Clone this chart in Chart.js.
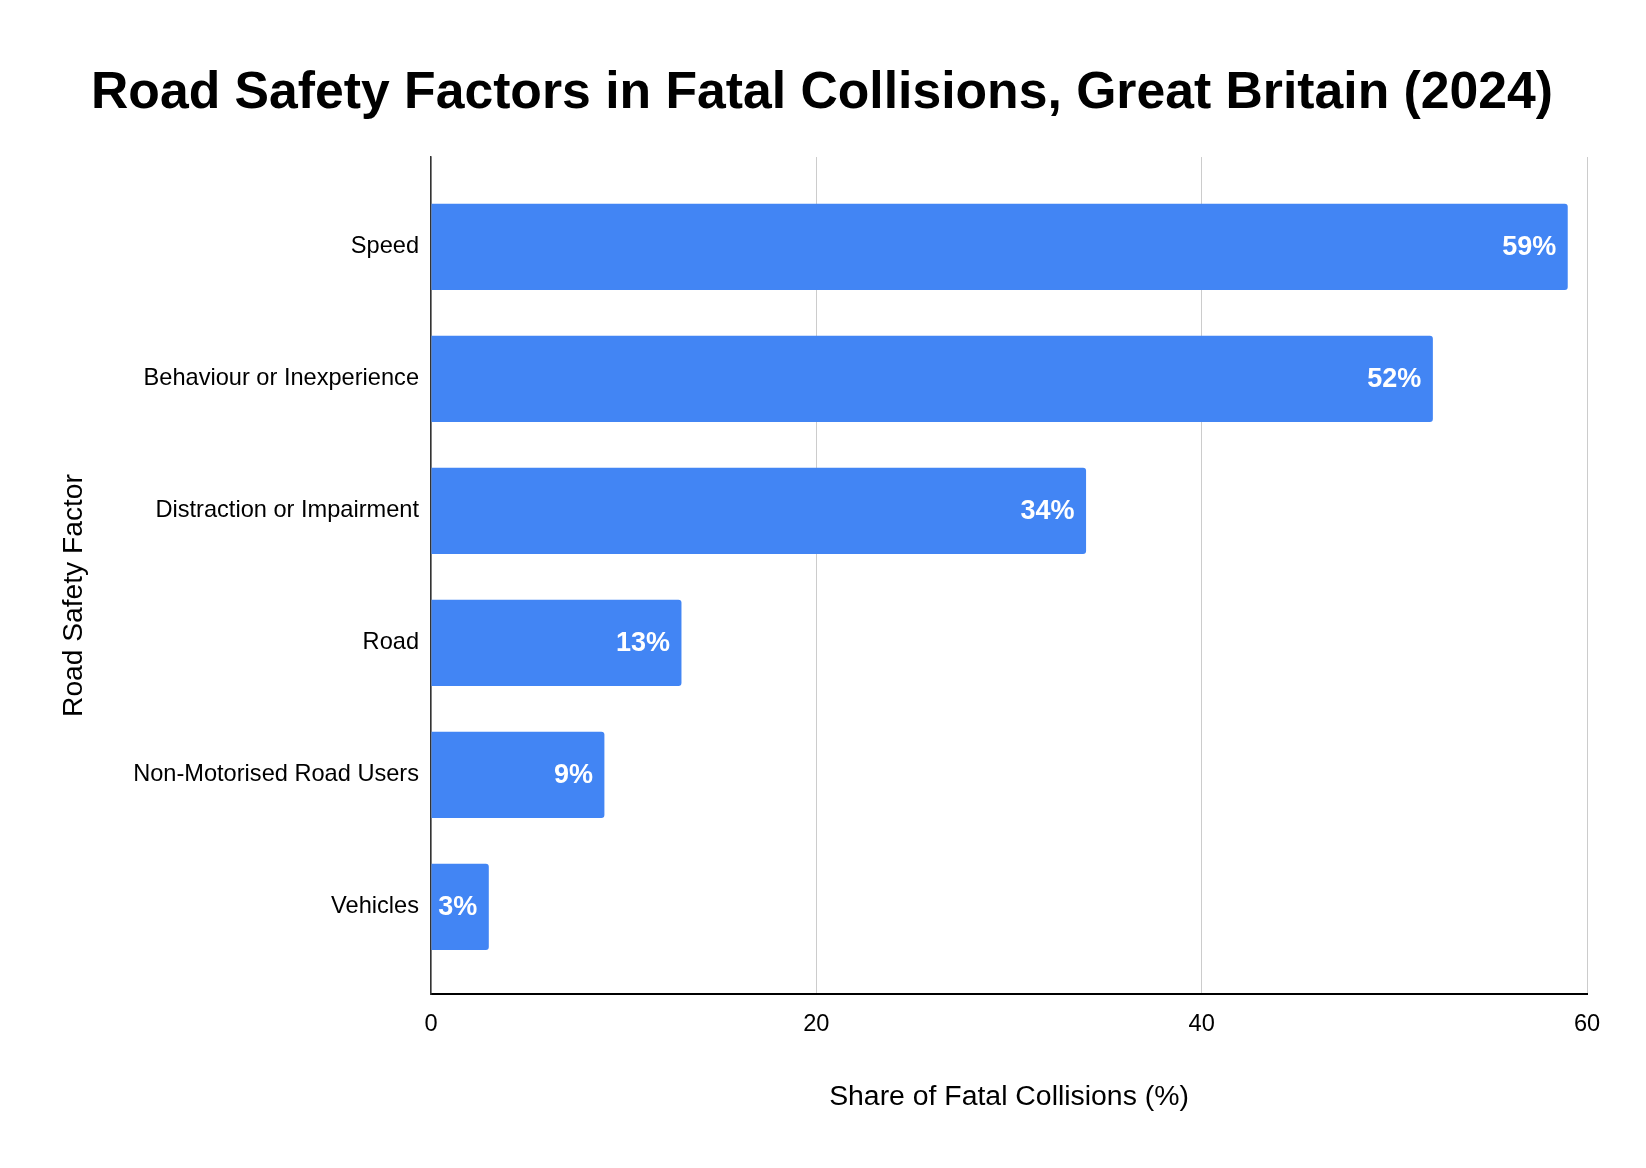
<!DOCTYPE html>
<html>
<head>
<meta charset="utf-8">
<script src="https://cdn.jsdelivr.net/npm/chart.js@4.4.1/dist/chart.umd.min.js"></script>
<style>
  html, body { margin: 0; padding: 0; background: #ffffff; }
  #wrap { width: 1646px; height: 1168px; position: relative; }
</style>
</head>
<body>
<div id="wrap"><canvas id="c" width="1646" height="1168"></canvas></div>
<script>
const categories = ["Speed", "Behaviour or Inexperience", "Distraction or Impairment", "Road", "Non-Motorised Road Users", "Vehicles"];
const shareValues = [59, 52, 34, 13, 9, 3];
const valueLabels = ["59%", "52%", "34%", "13%", "9%", "3%"];
const xTicks = [0, 20, 40, 60];
const yAxisTitle = 'Road Safety Factor';

const FONT = "'Liberation Sans', Arial, sans-serif";

const barLabelPlugin = {
  id: 'barLabels',
  afterDatasetsDraw(chart) {
    const ctx = chart.ctx;
    const meta = chart.getDatasetMeta(0);
    ctx.save();
    ctx.fillStyle = '#ffffff';
    ctx.font = "bold 27px " + FONT;
    ctx.textAlign = 'right';
    ctx.textBaseline = 'middle';
    meta.data.forEach((bar, i) => {
      ctx.fillText(valueLabels[i], bar.x - 11.5, bar.y + 1);
    });
    ctx.restore();
  }
};

const yTitlePlugin = {
  id: 'yTitle',
  afterDraw(chart) {
    const ctx = chart.ctx;
    const area = chart.chartArea;
    ctx.save();
    ctx.translate(74.5, (area.top + area.bottom) / 2 + 20);
    ctx.rotate(-Math.PI / 2);
    ctx.fillStyle = '#000000';
    ctx.font = "28.2px " + FONT;
    ctx.textAlign = 'center';
    ctx.textBaseline = 'middle';
    ctx.fillText(yAxisTitle, 0, 0);
    ctx.restore();
  }
};

new Chart(document.getElementById('c'), {
  type: 'bar',
  data: {
    datasets: [{
      data: shareValues.map((v, i) => ({ x: v, y: i })),
      backgroundColor: '#4285F4',
      borderRadius: 3,
      borderSkipped: 'start',
      barPercentage: 0.653,
      categoryPercentage: 1.0
    }]
  },
  options: {
    indexAxis: 'y',
    responsive: false,
    animation: false,
    devicePixelRatio: 1,
    layout: { padding: { left: 57, right: 59, top: 0, bottom: 0 } },
    plugins: {
      legend: { display: false },
      tooltip: { enabled: false },
      title: {
        display: true,
        text: 'Road Safety Factors in Fatal Collisions, Great Britain (2024)',
        color: '#000000',
        font: { family: FONT, size: 51.7, weight: 'bold', lineHeight: 1.2 },
        padding: { top: 62.3, bottom: 32.7 }
      }
    },
    scales: {
      x: {
        type: 'linear',
        min: 0,
        max: 60,
        offset: false,
        afterBuildTicks(scale) { scale.ticks = xTicks.map(v => ({ value: v })); },
        afterFit(scale) { scale.height = 174; },
        grid: { color: '#cccccc', lineWidth: 1, drawTicks: false },
        border: { display: true, color: '#000000', width: 2 },
        ticks: {
          color: '#000000',
          padding: 16,
          font: { family: FONT, size: 23.6 }
        },
        title: {
          display: true,
          text: 'Share of Fatal Collisions (%)',
          color: '#000000',
          font: { family: FONT, size: 28.4, lineHeight: 1.2 },
          padding: { top: 0, bottom: 54 }
        }
      },
      y: {
        type: 'linear',
        reverse: true,
        offset: false,
        min: -0.68,
        max: 5.66,
        afterBuildTicks(scale) { scale.ticks = categories.map((c, i) => ({ value: i })); },
        afterFit(scale) { scale.width = 374; },
        grid: { display: false, drawTicks: false },
        border: { display: true, color: '#333333', width: 1.5 },
        ticks: {
          color: '#000000',
          padding: 12,
          font: { family: FONT, size: 23.6 },
          callback: (value) => categories[value]
        },
        title: { display: false }
      }
    }
  },
  plugins: [barLabelPlugin, yTitlePlugin]
});
</script>
</body>
</html>
